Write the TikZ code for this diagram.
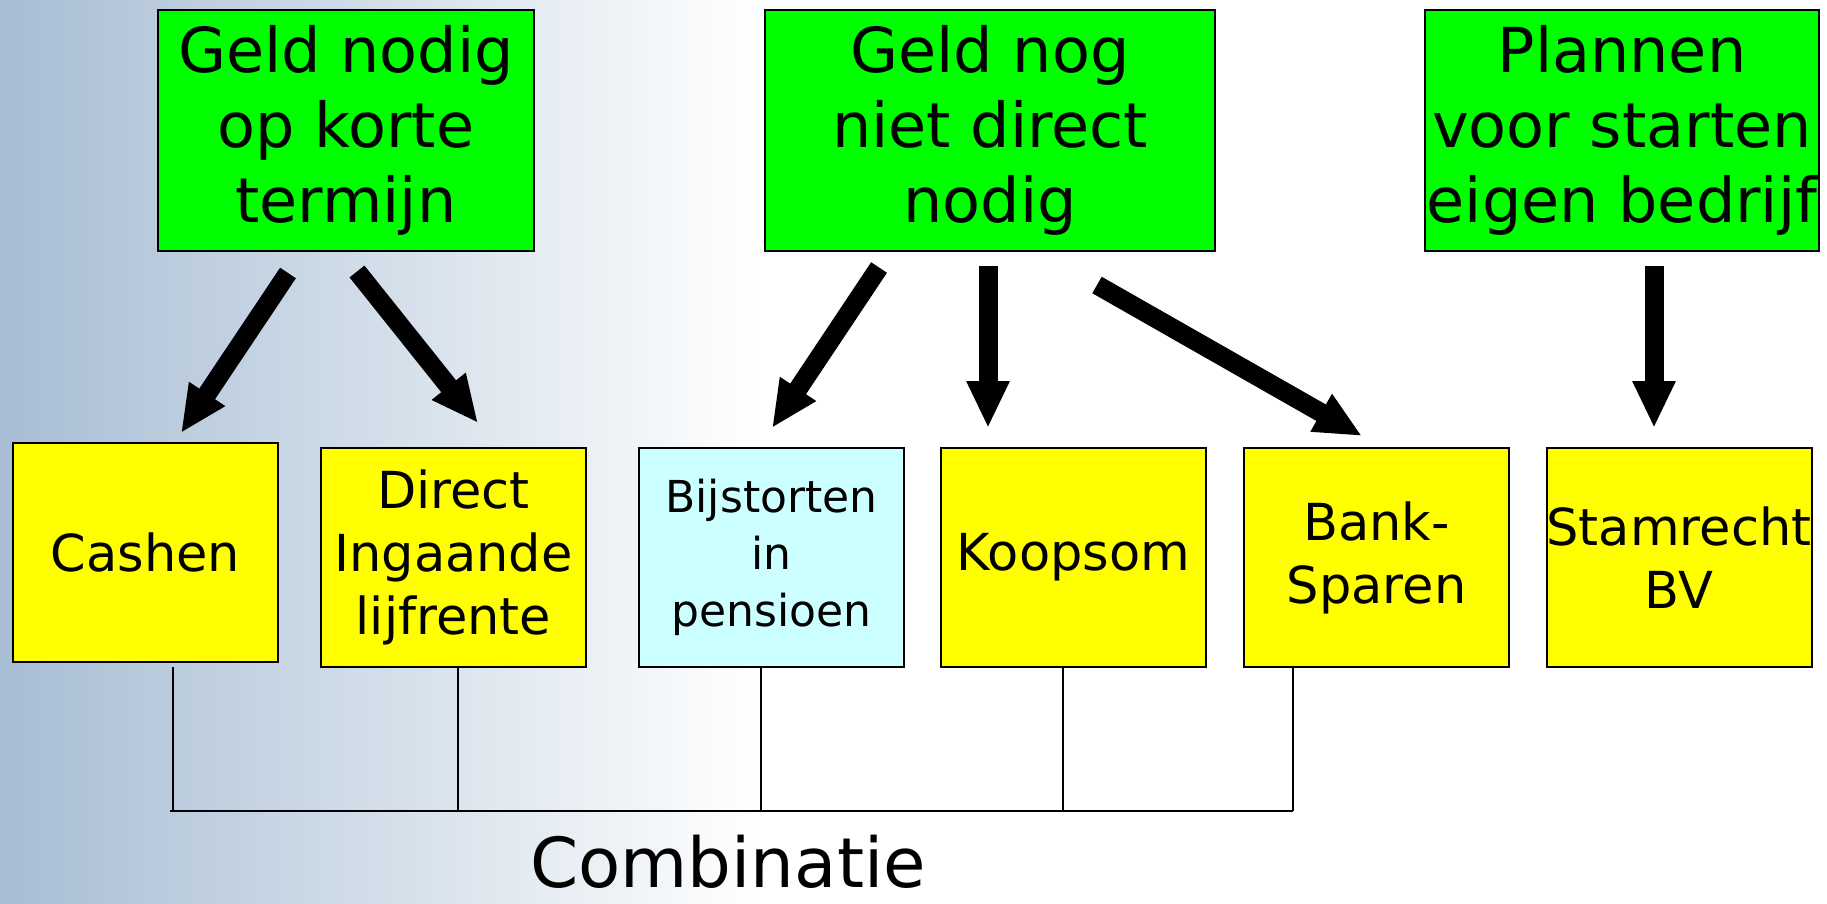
\documentclass[tikz,border=0pt]{standalone}
\usepackage{fontspec}
\setmainfont{DejaVu Sans}
\usetikzlibrary{arrows.meta,calc}
\definecolor{bgblue}{RGB}{167,189,212}
\definecolor{boxgreen}{RGB}{0,255,0}
\definecolor{boxyellow}{RGB}{255,255,0}
\definecolor{boxcyan}{RGB}{204,255,255}
\begin{document}
\begin{tikzpicture}[x=1pt,y=-1pt,
  topbox/.style={draw=black, line width=2pt, fill=boxgreen, minimum width=#1,
    minimum height=241pt, inner sep=0pt, align=center,
    font=\fontsize{62}{75}\selectfont},
  botbox/.style={draw=black, line width=2pt, fill=#1, minimum width=265pt,
    minimum height=219pt, inner sep=0pt, align=center,
    font=\fontsize{51}{63}\selectfont},
  bigarrow/.style={line width=19pt, -{Triangle[length=47pt,width=40pt]}},
  joinline/.style={line width=1.6pt},
  busline/.style={line width=2pt}
]
\useasboundingbox (0,0) rectangle (1827,904);
\fill[left color=bgblue, right color=white] (0,0) rectangle (760,904);
\fill[white] (759,0) rectangle (1827,904);

% top boxes
\node[topbox=376pt] (A) at (346,130.5) {Geld nodig\\op korte\\termijn};
\node[topbox=450pt] (B) at (990,130.5) {Geld nog\\niet direct\\nodig};
\node[topbox=394pt] (C) at (1622,130.5) {Plannen\\voor starten\\eigen bedrijf};

% bottom boxes
\node[botbox=boxyellow] (cashen) at (145.5,552.5) {Cashen};
\node[botbox=boxyellow] (direct) at (453.5,557.5) {Direct\\Ingaande\\lijfrente};
\node[botbox=boxcyan, font=\fontsize{44}{57}\selectfont] (bijst) at (771.5,557.5) {Bijstorten\\in\\pensioen};
\node[botbox=boxyellow] (koop) at (1073.5,557.5) {Koopsom};
\node[botbox=boxyellow] (bank) at (1376.5,557.5) {Bank-\\Sparen};
\node[botbox=boxyellow] (stam) at (1679,557.5) {Stamrecht\\BV};

% arrow end points
\coordinate (a1s) at (288,273);   \coordinate (a1e) at (181,433);
\coordinate (a2s) at (357,271.5); \coordinate (a2e) at (478,423);
\coordinate (b1s) at (879,267.5); \coordinate (b1e) at (772,428);
\coordinate (b2s) at (988,266);   \coordinate (b2e) at (988,428);
\coordinate (b3s) at (1097,285);  \coordinate (b3e) at (1362,436);
\coordinate (c1s) at (1654,266);  \coordinate (c1e) at (1654,428);

\draw[bigarrow] (a1s) -- (a1e);
\draw[bigarrow] (a2s) -- (a2e);
\draw[bigarrow] (b1s) -- (b1e);
\draw[bigarrow] (b2s) -- (b2e);
\draw[bigarrow] (b3s) -- (b3e);
\draw[bigarrow] (c1s) -- (c1e);

% combination bus
\coordinate (jl) at (170,811);
\coordinate (j1) at (173,811);
\coordinate (j2) at (458,811);
\coordinate (j3) at (761,811);
\coordinate (j4) at (1063,811);
\coordinate (j5) at (1293,811);
\coordinate (j1top) at (173,667);

\draw[joinline] (j1top) -- (j1);
\draw[joinline] (direct.south -| j2) -- (j2);
\draw[joinline] (bijst.south -| j3) -- (j3);
\draw[joinline] (koop.south -| j4) -- (j4);
\draw[joinline] (bank.south -| j5) -- (j5);
\draw[busline] (jl) -- (j5);

\node[anchor=base, font=\fontsize{69}{84}\selectfont, inner sep=0pt] (comb) at (728,887) {Combinatie};
\end{tikzpicture}
\end{document}
